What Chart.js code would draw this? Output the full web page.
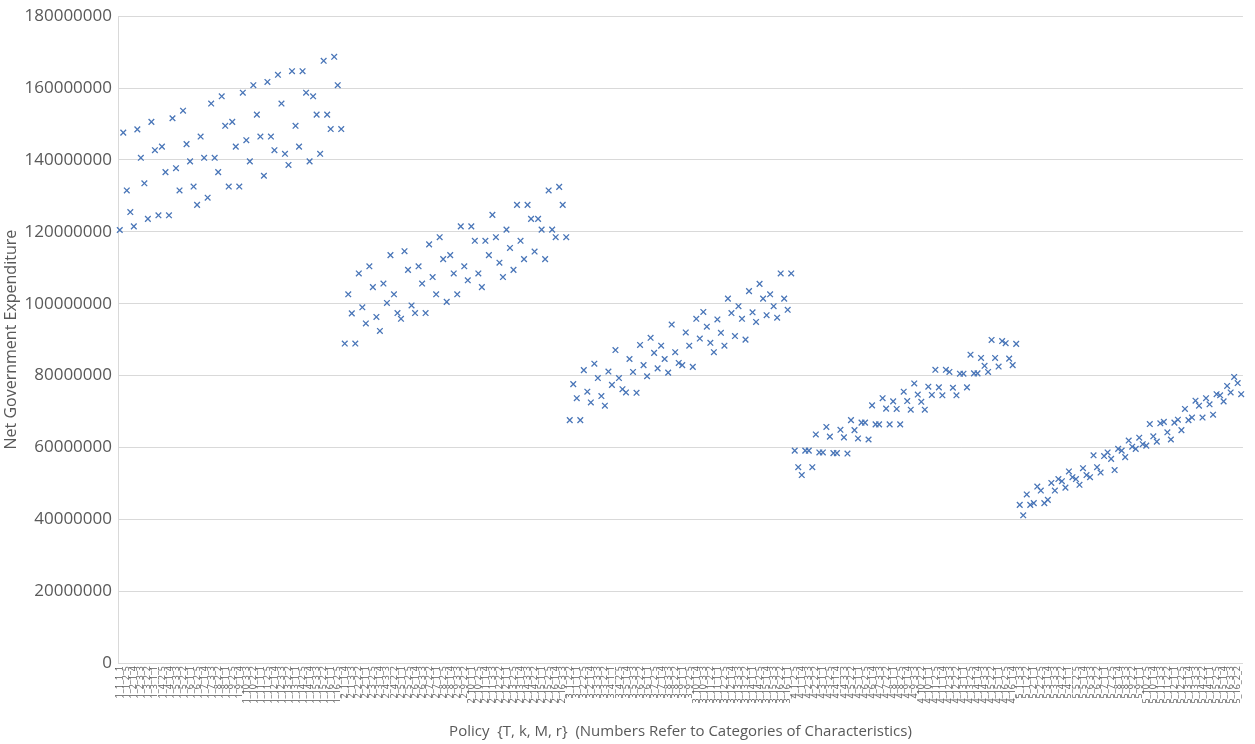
<!DOCTYPE html>
<html lang="en">
<head>
  <meta charset="UTF-8" />
  <title>Net Government Expenditure by Policy</title>
  <script src="https://cdn.jsdelivr.net/npm/chart.js"></script>
  <style>
    body {
      margin: 0;
      padding: 0;
      background-color: #ffffff;
    }

    .chart-container {
      width: 1255px;
      height: 744px;
      position: relative;
    }
  </style>
</head>
<body>
  <div class="chart-container">
    <canvas id="policyChart"></canvas>
  </div>

  <script>
    // policy factors {T, k, M, r}
    const tLevels = [1, 2, 3, 4, 5];
    const kLevels = [1, 2, 3, 4, 5, 6, 7, 8, 9, 10, 11, 12, 13, 14, 15, 16];
    const mCycle = [1, 3, 2, 2, 1];
    const rCycle = [1, 3, 5, 2, 4];
    const perK = 4;

    // net government expenditure, millions, one list per T
    const expT1 = [120.5, 147.6, 131.5, 125.5, 121.5, 148.5, 140.6, 133.5, 123.6, 150.6, 142.7, 124.6, 143.7, 136.6, 124.6, 151.6,
      137.7, 131.5, 153.7, 144.4, 139.6, 132.6, 127.5, 146.5, 140.6, 129.5, 155.7, 140.6, 136.6, 157.7, 149.5, 132.6,
      150.6, 143.7, 132.6, 158.7, 145.5, 139.6, 160.8, 152.6, 146.5, 135.6, 161.7, 146.5, 142.7, 163.7, 155.7, 141.7,
      138.6, 164.7, 149.5, 143.7, 164.7, 158.7, 139.6, 157.7, 152.6, 141.7, 167.6, 152.6, 148.6, 168.7, 160.8, 148.6];
    const expT2 = [88.9, 102.6, 97.3, 88.9, 108.4, 99.0, 94.5, 110.4, 104.6, 96.3, 92.4, 105.6, 100.2, 113.5, 102.6, 97.4,
      95.8, 114.6, 109.4, 99.5, 97.4, 110.4, 105.6, 97.4, 116.5, 107.4, 102.6, 118.5, 112.4, 100.5, 113.5, 108.4,
      102.6, 121.5, 110.4, 106.5, 121.5, 117.5, 108.4, 104.6, 117.5, 113.5, 124.7, 118.5, 111.4, 107.4, 120.6, 115.5,
      109.4, 127.5, 117.5, 112.4, 127.5, 123.6, 114.5, 123.6, 120.6, 112.4, 131.5, 120.6, 118.5, 132.5, 127.5, 118.5];
    const expT3 = [67.6, 77.6, 73.7, 67.6, 81.5, 75.5, 72.5, 83.3, 79.3, 74.3, 71.6, 81.1, 77.4, 87.1, 79.3, 76.2,
      75.3, 84.6, 81.0, 75.2, 88.5, 82.9, 79.8, 90.5, 86.3, 82.0, 88.3, 84.6, 80.8, 94.2, 86.5, 83.5,
      82.9, 92.0, 88.3, 82.4, 95.8, 90.3, 97.7, 93.6, 89.1, 86.5, 95.6, 91.9, 88.3, 101.4, 97.4, 91.0,
      99.3, 95.8, 90.0, 103.5, 97.6, 94.9, 105.5, 101.4, 96.8, 102.6, 99.3, 96.1, 108.4, 101.4, 98.3, 108.4];
    const expT4 = [59.1, 54.5, 52.3, 59.1, 59.1, 54.5, 63.6, 58.6, 58.6, 65.7, 63.0, 58.4, 58.4, 64.9, 62.8, 58.3,
      67.6, 64.8, 62.5, 66.9, 66.9, 62.2, 71.7, 66.4, 66.4, 73.7, 70.8, 66.4, 72.8, 70.7, 66.4, 75.5,
      72.9, 70.5, 77.8, 74.7, 72.7, 70.5, 76.9, 74.6, 81.6, 76.7, 74.5, 81.6, 81.0, 76.6, 74.5, 80.5,
      80.5, 76.7, 85.8, 80.6, 80.6, 84.9, 82.7, 81.0, 89.9, 84.9, 82.5, 89.6, 89.0, 84.7, 82.9, 88.8];
    const expT5 = [44.0, 41.1, 46.9, 44.0, 44.5, 49.1, 48.0, 44.5, 45.4, 50.1, 48.0, 51.2, 50.6, 48.8, 53.3, 51.7,
      51.2, 49.6, 54.2, 52.3, 51.7, 57.8, 54.5, 53.0, 57.6, 58.6, 56.8, 53.7, 59.6, 59.1, 57.3, 61.9,
      60.2, 59.6, 62.7, 60.9, 60.5, 66.5, 63.1, 61.6, 66.7, 67.1, 64.2, 62.2, 66.9, 67.7, 64.8, 70.7,
      67.6, 68.3, 73.0, 71.6, 68.3, 73.7, 72.0, 69.1, 74.8, 74.5, 72.8, 77.1, 75.3, 79.6, 77.9, 74.8];

    const yTicks = [0, 20, 40, 60, 80, 100, 120, 140, 160, 180];

    const categories = [];
    tLevels.forEach((t) => {
      kLevels.forEach((k) => {
        for (let j = 0; j < perK; j++) {
          const i = categories.length;
          categories.push(`${t}_${k}_${mCycle[i % 5]}_${rCycle[i % 5]}`);
        }
      });
    });
    const values = [...expT1, ...expT2, ...expT3, ...expT4, ...expT5];

    const textColor = '#595959';
    const fontFamily = "'Open Sans', 'Liberation Sans', sans-serif";

    const ctx = document.getElementById('policyChart').getContext('2d');
    const chart = new Chart(ctx, {
      type: 'line',
      data: {
        labels: categories,
        datasets: [{
          label: 'Net Government Expenditure',
          data: values,
          showLine: false,
          pointStyle: 'crossRot',
          pointRadius: 4,
          pointHoverRadius: 4.5,
          borderWidth: 1.3,
          pointBorderColor: '#4a76b8',
          pointBackgroundColor: '#4a76b8',
          borderColor: '#4a76b8'
        }]
      },
      options: {
        responsive: true,
        maintainAspectRatio: false,
        animation: false,
        layout: {
          padding: { top: 1, right: 5, left: 2, bottom: 3 }
        },
        scales: {
          x: {
            offset: true,
            grid: { display: false, drawTicks: false },
            border: { color: '#d9d9d9' },
            ticks: {
              autoSkip: false,
              maxRotation: 90,
              minRotation: 90,
              padding: 3,
              color: textColor,
              font: { family: fontFamily, size: 9 },
              callback: function (value, index) {
                return index % 2 === 0 ? categories[index] : '';
              }
            },
            title: {
              display: true,
              text: 'Policy  {T, k, M, r}  (Numbers Refer to Categories of Characteristics)',
              color: textColor,
              font: { family: fontFamily, size: 15 },
              padding: { top: 2, bottom: 0 }
            },
            afterFit: (scale) => { scale.height = 78; }
          },
          y: {
            min: 0,
            max: 180,
            afterBuildTicks: (scale) => { scale.ticks = yTicks.map((v) => ({ value: v })); },
            grid: { color: '#d9d9d9', drawTicks: false },
            border: { color: '#d9d9d9' },
            ticks: {
              padding: 6,
              color: textColor,
              font: { family: fontFamily, size: 17 },
              callback: (v) => (v === 0 ? '0' : v + '000000')
            },
            title: {
              display: true,
              text: 'Net Government Expenditure',
              color: textColor,
              font: { family: fontFamily, size: 16 },
              padding: { top: 0, bottom: 2 }
            },
            afterFit: (scale) => { scale.width = 116; }
          }
        },
        plugins: {
          legend: { display: false },
          tooltip: {
            callbacks: {
              label: (item) => `${item.label}: ${Math.round(item.parsed.y * 1000000)}`
            }
          }
        }
      }
    });
  </script>
</body>
</html>
